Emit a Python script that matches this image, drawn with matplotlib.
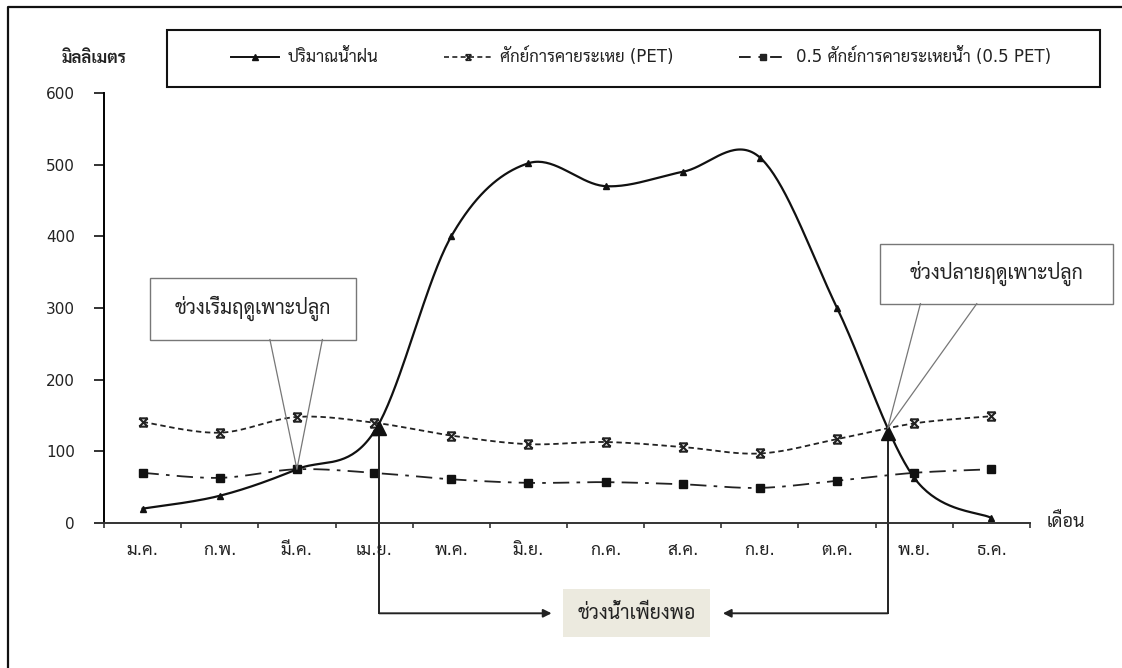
import matplotlib
matplotlib.use("Agg")
import matplotlib.pyplot as plt
import numpy as np
from matplotlib.lines import Line2D
from matplotlib.patches import Rectangle
from matplotlib.path import Path

plt.rcParams["font.family"] = ["DejaVu Sans", "Sarabun", "Athiti"]

months = ["ม.ค.", "ก.พ.", "มี.ค.", "เม.ย.", "พ.ค.", "มิ.ย.",
          "ก.ค.", "ส.ค.", "ก.ย.", "ต.ค.", "พ.ย.", "ธ.ค."]
rain = [20, 38, 75, 127, 400, 502, 470, 490, 510, 300, 63, 7]
pet = [141, 126, 148, 140, 122, 110, 113, 106, 97, 117, 139, 149]
half_pet = [70, 63, 75, 70, 61, 56, 57, 54, 49, 59, 70, 75]

label_rain = "ปริมาณน้ำฝน"
label_pet = "ศักย์การคายระเหย (PET)"
label_half = "0.5 ศักย์การคายระเหยน้ำ (0.5 PET)"
note_start = "ช่วงเริ่มฤดูเพาะปลูก"
note_end = "ช่วงปลายฤดูเพาะปลูก"
note_enough = "ช่วงน้ำเพียงพอ"

W, H = 1122, 668
INK = "#222222"


def fx(x):
    return x / W


def fy(y):
    return 1 - y / H


def smooth(xs, ys, n=40):
    # bezier smoothing of a polyline (same idea as spreadsheet "smoothed line")
    P = np.column_stack([xs, ys]).astype(float)
    P = np.vstack([P[0], P, P[-1]])
    t = np.linspace(0, 1, n)[:, None]
    out = []
    for i in range(1, len(P) - 2):
        p0, p1, p2, p3 = P[i - 1], P[i], P[i + 1], P[i + 2]
        c1 = p1 + (p2 - p0) / 6
        c2 = p2 - (p3 - p1) / 6
        seg = (1 - t) ** 3 * p1 + 3 * (1 - t) ** 2 * t * c1 + 3 * (1 - t) * t ** 2 * c2 + t ** 3 * p2
        out.append(seg if i == 1 else seg[1:])
    return np.vstack(out)


def crossing(a, b, after):
    d = a[:, 1] - b[:, 1]
    for i in range(len(d) - 1):
        if a[i, 0] >= after and np.sign(d[i]) != np.sign(d[i + 1]):
            f = d[i] / (d[i] - d[i + 1])
            return a[i, 0] + f * (a[i + 1, 0] - a[i, 0]), a[i, 1] + f * (a[i + 1, 1] - a[i, 1])
    return None


# x with a bar on top and bottom
pet_marker = Path([(-1, -1), (1, 1), (-1, 1), (1, -1), (-1, 1), (1, 1), (-1, -1), (1, -1)],
                  [Path.MOVETO, Path.LINETO] * 4)

x = np.arange(len(months)) + 0.5
c_rain = smooth(x, rain)
c_pet = smooth(x, pet)
c_half = smooth(x, half_pet)

fig = plt.figure(figsize=(W / 100, H / 100), dpi=100)
ax = fig.add_axes([fx(104), fy(523), fx(1030 - 104), (523 - 93) / H])

ax.plot(c_pet[:, 0], c_pet[:, 1], color=INK, lw=1.3, ls=(0, (3, 2)))
ax.plot(x, pet, ls="none", marker=pet_marker, ms=6, mec=INK, mew=1.5)
ax.plot(c_half[:, 0], c_half[:, 1], color=INK, lw=1.3, ls=(0, (9, 4, 2, 4)))
ax.plot(x, half_pet, ls="none", marker="s", ms=6, color="#111")
ax.plot(c_rain[:, 0], c_rain[:, 1], color="#111", lw=1.6)
ax.plot(x, rain, ls="none", marker="^", ms=5, color="#111")

ax.set_xlim(0, 12)
ax.set_ylim(0, 600)
for s in ["top", "right"]:
    ax.spines[s].set_visible(False)
ax.spines["left"].set_linewidth(1.4)
ax.spines["bottom"].set_linewidth(1.4)
ax.spines["bottom"].set_color("#333")

ax.set_yticks(range(0, 601, 100))
ax.tick_params(axis="y", direction="out", length=7, width=1.3, pad=14, labelsize=11, colors=INK)
ax.set_xticks(np.arange(13))
ax.set_xticklabels([])
ax.set_xticks(x, minor=True)
ax.set_xticklabels(months, minor=True)
ax.tick_params(axis="x", which="major", direction="out", length=3.5, width=1.2, color="#333")
ax.tick_params(axis="x", which="minor", length=0, pad=13, labelsize=12.5, labelcolor=INK)

fig.text(fx(62), fy(58), "มิลลิเมตร", fontsize=12, fontweight="bold", color=INK, va="center")
fig.text(fx(1047), fy(522), "เดือน", fontsize=13, color=INK, va="center")

# legend box
fig.patches.append(Rectangle((fx(167), fy(87)), fx(1100 - 167), (87 - 30) / H,
                             transform=fig.transFigure, fill=False, ec="#111", lw=1.5))
handles = [
    Line2D([], [], color="#111", lw=1.4, marker="^", ms=4),
    Line2D([], [], color=INK, lw=1.2, ls=(0, (3, 2)), marker=pet_marker, ms=4, mew=1.2),
    Line2D([], [], color=INK, lw=1.4, ls=(0, (6, 4, 2, 4)), marker="s", ms=5),
]
fig.legend(handles, [label_rain, label_pet, label_half], ncol=3, frameon=False,
           loc="center left", bbox_to_anchor=(fx(216), fy(72), fx(1066 - 216), 30 / H),
           mode="expand", fontsize=12, handlelength=2.9, handletextpad=0.5,
           labelcolor=INK)

# crossing points of rainfall and PET
start = crossing(c_rain, c_pet, 3.0)
end = crossing(c_rain, c_pet, 9.0)
ax.plot([start[0], end[0]], [start[1] - 6, end[1] - 6], ls="none", marker="^", ms=10, color="#111",
        clip_on=False, zorder=5)


# callouts
def callout(box, a, b, target, text):
    x0, y0, x1, y1 = box
    ax.add_patch(Rectangle((x0, y0), x1 - x0, y1 - y0, fill=True, fc="white", ec="#777",
                           lw=1.0, clip_on=False, zorder=6))
    ax.text((x0 + x1) / 2, (y0 + y1) / 2, text, ha="center", va="center", fontsize=14,
            color=INK, zorder=7)
    ax.plot([a, target[0], b], [y0, target[1], y0], color="#777", lw=0.9, clip_on=False, zorder=6)


callout((0.6, 256, 3.27, 342), 2.15, 2.83, (2.5, rain[2]), note_start)
callout((10.06, 306, 13.07, 390), 10.58, 11.31, end, note_end)

# bracket for the period with sufficient water
y_br = -126
ax.plot([start[0], start[0]], [start[1], y_br], color=INK, lw=1.4, clip_on=False)
ax.plot([end[0], end[0]], [end[1], y_br], color=INK, lw=1.4, clip_on=False)
ax.annotate("", xy=(5.8, y_br), xytext=(start[0], y_br), annotation_clip=False,
            arrowprops=dict(arrowstyle="-|>", color=INK, lw=1.4, mutation_scale=12,
                            shrinkA=0, shrinkB=0))
ax.annotate("", xy=(8.02, y_br), xytext=(end[0], y_br), annotation_clip=False,
            arrowprops=dict(arrowstyle="-|>", color=INK, lw=1.4, mutation_scale=12,
                            shrinkA=0, shrinkB=0))
ax.text(6.9, y_br, note_enough, ha="center", va="center", fontsize=14, color=INK,
        bbox=dict(boxstyle="square,pad=0.75", fc="#ECEADF", ec="none"))

# outer frame (left and top edges)
fig.add_artist(Line2D([fx(8), fx(8), fx(1122)], [fy(668), fy(7), fy(7)],
                      transform=fig.transFigure, color="#111", lw=1.6))

fig.savefig("out.png", dpi=100)
